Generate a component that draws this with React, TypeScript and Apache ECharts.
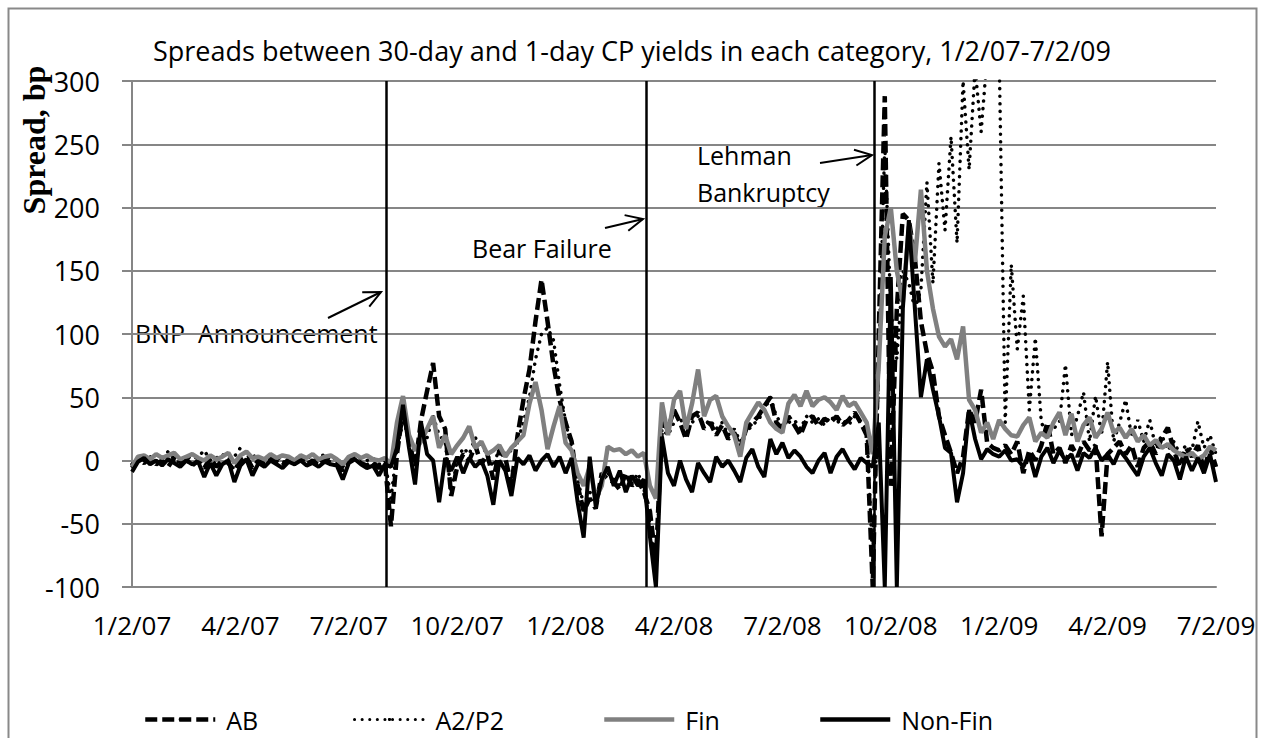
import React, { useEffect, useRef } from "react";
import * as echarts from "echarts";

// x positions are months after 1/2/07; one value every 1/6 month
const STEP = 1 / 6;
const TICK_LABELS = ["1/2/07", "4/2/07", "7/2/07", "10/2/07", "1/2/08", "4/2/08", "7/2/08", "10/2/08", "1/2/09", "4/2/09", "7/2/09"];
const SERIES_NAMES = ["AB", "A2/P2", "Fin", "Non-Fin"];

const AB = [
  -6, 1, -2, 2, -3, 0, -5, 2, -2, 1,
  -4, 0, -6, 2, -5, 0, -2, -8, 0, 3,
  -6, 0, -3, 2, -1, -4, 1, -2, 2, -3,
  0, -4, 1, -2, -3, -8, 0, 2, -2, -4,
  -1, -6, -2, -52, 5, 40, 15, -5, 32, 55,
  77, 35, 25, -28, -5, 5, 0, 12, -3, 5,
  -15, 8, 2, -20, 19, 48, 72, 110, 143, 110,
  75, 48, 30, 15, -20, -40, -30, -38, -10, -15,
  -17, -23, -10, -20, -15, -25, -40, -80, 30, 25,
  40, 30, 17, 35, 38, 25, 30, 20, 28, 17,
  22, 10, 25, 30, 35, 43, 50, 30, 25, 35,
  28, 20, 32, 35, 27, 33, 30, 35, 28, 32,
  38, 30, 20, -100, 100, 288, -20, 120, 195, 190,
  160, 110, 85, 70, 35, 20, 6, -10, 3, 40,
  30, 56, 14, 10, 8, 12, 5, 15, -10, 8,
  0, 12, 30, 5, 10, -2, 12, 3, 15, 8,
  12, -60, 5, 10, 15, 5, 12, -5, 10, 15,
  5, 18, 26, 8, -5, 10, 3, 12, -8, 10, -5,
];

const A2P2 = [
  -3, 2, 0, 3, -1, 2, 7, 1, -2, 4,
  1, 3, 8, 0, 2, 5, 1, 3, 10, 2,
  5, 0, 3, 1, 4, -2, 2, 3, 0, 4,
  1, 2, 5, 0, 3, -5, 2, 4, 1, 0,
  2, -3, 0, -30, 10, 30, 20, 0, 25, 18,
  35, 20, 15, -25, 0, 10, 5, 18, 12, 5,
  -5, 10, 5, 8, 15, 30, 50, 80, 100, 105,
  95, 60, 30, 10, -15, -35, -25, -30, -15, -10,
  -15, -20, -12, -18, -10, -22, -50, -90, 25, 20,
  30, 35, 20, 30, 35, 28, 32, 25, 30, 20,
  25, 15, 22, 28, 32, 40, 50, 35, 28, 30,
  32, 25, 35, 30, 33, 28, 35, 30, 32, 28,
  35, 30, 25, -80, 80, 250, 120, 80, 150, 140,
  120, 135, 220, 140, 235, 182, 256, 172, 300, 230,
  310, 260, 320, 330, 320, 30, 155, 88, 130, 40,
  97, 30, 20, 25, 30, 76, 20, 35, 54, 15,
  51, 20, 78, 15, 30, 48, 18, 32, 15, 32,
  10, 20, 8, 15, 5, 12, 8, 31, 10, 20, 5,
];

const FIN = [
  -5, 3, 4, 1, 5, 2, 4, 6, 1, 3,
  5, 2, 0, 4, 1, 3, 6, -2, 4, 7,
  2, 3, 1, 5, 2, 4, 3, 0, 4, 2,
  5, 1, 3, 4, 1, -3, 3, 5, 2, 4,
  1, 0, 2, -3, 30, 51, 20, 8, 15, 25,
  35, 10, 20, 5, 12, 18, 27, 10, 15, 5,
  8, 12, 3, 10, 15, 20, 45, 62, 40, 9,
  27, 43, 14, 8, -10, -20, -5, -30, -20, 11,
  8, 9, 5, 8, 3, 6, -20, -30, 46, 20,
  48, 55, 25, 45, 72, 35, 48, 51, 35, 27,
  20, 3, 30, 38, 46, 40, 30, 25, 22, 45,
  52, 43, 55, 43, 48, 50, 46, 40, 51, 43,
  46, 38, 30, 5, 75, 177, 200, 150, 125, 185,
  157, 214, 150, 120, 98, 90, 96, 80, 106, 48,
  40, 22, 30, 17, 32, 25, 20, 19, 28, 34,
  15, 22, 18, 30, 38, 20, 37, 15, 28, 34,
  18, 25, 38, 22, 26, 18, 25, 15, 20, 12,
  16, 10, 13, 8, 5, 3, 6, 1, 4, 11, 8,
];

const NONFIN = [
  -9, -1, 2, -3, 0, -4, 1, -2, -5, 0,
  -3, -1, -13, -2, -12, -3, 0, -17, -4, 1,
  -12, -2, -5, 0, -3, -6, -1, -3, 0, -4,
  -2, -5, -1, -3, -4, -15, -2, 1, -3, -6,
  -4, -12, -3, -5, 10, 44, 10, -19, 30, 5,
  0, -33, 2, -8, 3, -10, 2, -5, 0, -12,
  -35, 0, -8, -28, 2, -3, 4, -8, 0, 5,
  -5, 3, -10, 2, -33, -61, 3, -36, -15, -5,
  -20, -8, -25, -12, -20, -15, -60, -100, 19, -10,
  -20, 0, -15, -25, -2, -10, -17, 3, -5, 0,
  -8, -17, 2, 9, -5, -13, 17, 5, 14, 2,
  8, 3, -5, -10, 0, 6, -10, 3, 9, 0,
  -7, 2, -2, -5, 30, -100, 145, -100, 120, 190,
  120, 50, 80, 56, 35, 10, 6, -33, -10, 40,
  17, 1, 9, 5, 3, 8, 0, 1, -5, 5,
  -13, 3, 10, -2, 8, 0, 5, -8, 6, 2,
  10, 0, 5, -3, 8, 2, -5, -12, 3, 10,
  -2, -12, 5, 0, -15, 3, -8, 2, -10, 5, -17,
];

// event dates, months after 1/2/07
const EVENT_MONTHS = [7.03, 14.23, 20.54];

const FONT = "'Open Sans', sans-serif";

function arrowHead(x1: number, y1: number, x2: number, y2: number, len: number, half: number) {
  const dx = x2 - x1;
  const dy = y2 - y1;
  const d = Math.sqrt(dx * dx + dy * dy);
  const ux = dx / d;
  const uy = dy / d;
  const bx = x2 - ux * len;
  const by = y2 - uy * len;
  return [
    [bx - uy * half, by + ux * half],
    [x2, y2],
    [bx + uy * half, by - ux * half],
  ];
}

function arrow(x1: number, y1: number, x2: number, y2: number) {
  return [
    { type: "line", shape: { x1, y1, x2, y2 }, style: { stroke: "#000", lineWidth: 2 } },
    { type: "polyline", shape: { points: arrowHead(x1, y1, x2, y2, 17, 8) }, style: { stroke: "#000", lineWidth: 2, fill: null } },
  ];
}

export default function App() {
  const ref = useRef<HTMLDivElement>(null);
  useEffect(() => {
    document.body.style.margin = "0";
    const chart = echarts.init(ref.current!, null, { renderer: "svg" });
    const toXY = (arr: number[]) => arr.map((v, i) => [i * STEP, v]);
    const annText = (text: string, x: number, y: number) => ({
      type: "text",
      x,
      y,
      style: { text, fill: "#000", fontSize: 25, fontFamily: FONT, textVerticalAlign: "middle" },
    });
    const legendAt = (name: string, left: number) => ({
      data: [name],
      left,
      top: 707,
      padding: 0,
      itemWidth: 70,
      itemHeight: 4,
      lineStyle: { width: name === "A2/P2" ? 3 : 4.5 },
      textStyle: { fontFamily: FONT, fontSize: 25, color: "#000", padding: [0, 0, 0, 6] },
    });
    chart.setOption({
      animation: false,
      backgroundColor: "#fff",
      grid: { left: 132, right: 49, top: 81, bottom: 151 },
      legend: [legendAt("AB", 143), legendAt("A2/P2", 353), legendAt("Fin", 602), legendAt("Non-Fin", 818)],
      xAxis: {
        type: "value",
        min: 0,
        max: 30,
        interval: 3,
        axisLine: { show: true, onZero: false, lineStyle: { color: "#868686", width: 2 } },
        axisTick: { show: false },
        splitLine: { show: false },
        axisLabel: {
          margin: 25,
          color: "#000",
          fontFamily: FONT,
          fontSize: 26,
          formatter: (v: number) => TICK_LABELS[Math.round(v / 3)] ?? "",
        },
      },
      yAxis: {
        type: "value",
        min: -100,
        max: 300,
        interval: 50,
        axisLine: { show: true, lineStyle: { color: "#868686", width: 2 } },
        axisTick: { show: true, length: 10, lineStyle: { color: "#868686", width: 2 } },
        splitLine: { show: true, lineStyle: { color: "#868686", width: 2 } },
        axisLabel: { margin: 32, color: "#000", fontFamily: FONT, fontSize: 27 },
      },
      series: [
        {
          name: SERIES_NAMES[0],
          type: "line",
          data: toXY(AB),
          symbol: "none",
          lineStyle: { color: "#000", width: 4.5, type: [12, 5] },
          itemStyle: { color: "#000" },
          z: 2,
        },
        {
          name: SERIES_NAMES[1],
          type: "line",
          data: toXY(A2P2),
          symbol: "none",
          lineStyle: { color: "#000", width: 3.5, type: [0.1, 7.5], cap: "round" },
          itemStyle: { color: "#000" },
          z: 3,
        },
        {
          name: SERIES_NAMES[2],
          type: "line",
          data: toXY(FIN),
          symbol: "none",
          lineStyle: { color: "#808080", width: 4.5 },
          itemStyle: { color: "#808080" },
          z: 4,
        },
        {
          name: SERIES_NAMES[3],
          type: "line",
          data: toXY(NONFIN),
          symbol: "none",
          lineStyle: { color: "#000", width: 4 },
          itemStyle: { color: "#000" },
          z: 5,
          markLine: {
            silent: true,
            symbol: "none",
            label: { show: false },
            lineStyle: { color: "#000", width: 2.5, type: "solid" },
            data: EVENT_MONTHS.map((m) => ({ xAxis: m })),
          },
        },
      ],
      graphic: [
        { type: "rect", shape: { x: 8.5, y: 8.5, width: 1248, height: 760 }, style: { fill: null, stroke: "#898989", lineWidth: 2 }, silent: true },
        {
          type: "text",
          x: 632,
          y: 50,
          style: { text: "Spreads between 30-day and 1-day CP yields in each category, 1/2/07-7/2/09", fill: "#000", fontSize: 27, fontFamily: FONT, textAlign: "center", textVerticalAlign: "middle" },
        },
        {
          type: "text",
          x: 34,
          y: 140,
          rotation: Math.PI / 2,
          style: { text: "Spread, bp", fill: "#000", fontSize: 32, fontWeight: "bold", fontFamily: "'Liberation Serif', serif", textAlign: "center", textVerticalAlign: "middle" },
        },
        annText("BNP  Announcement", 135, 333),
        annText("Bear Failure", 472, 248),
        annText("Lehman", 697, 155),
        annText("Bankruptcy", 697, 192),
        ...arrow(328, 318, 381, 292),
        ...arrow(605, 228, 643, 219),
        ...arrow(820, 163, 872, 155),
      ],
    });
    return () => chart.dispose();
  }, []);
  return <div ref={ref} style={{ width: 1265, height: 738 }} />;
}
